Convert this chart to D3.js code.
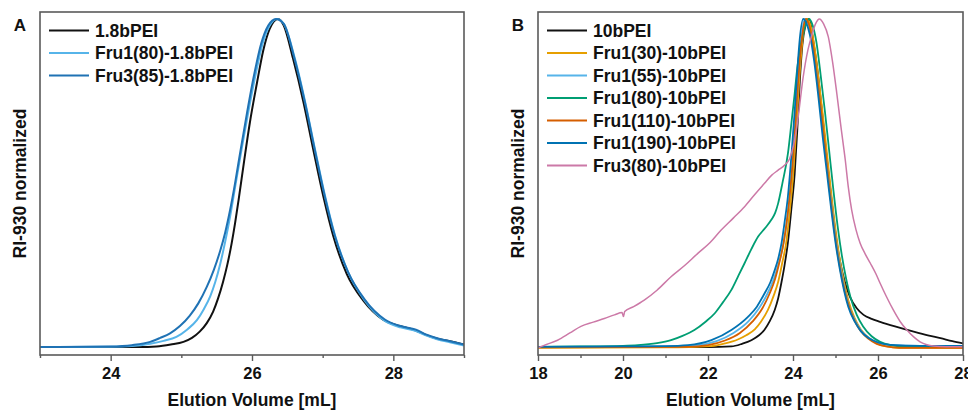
<!DOCTYPE html>
<html><head><meta charset="utf-8">
<script src="https://cdn.jsdelivr.net/npm/d3@7"></script>
<style>
body{margin:0;background:#fff;}
svg text{font-family:"Liberation Sans",Arial,sans-serif;font-weight:bold;fill:#111;}
</style></head>
<body><svg id="c" width="968" height="411"></svg>
<script>
// ---------- Panel A data ----------
const seriesNamesA = ["1.8bPEI","Fru1(80)-1.8bPEI","Fru3(85)-1.8bPEI"];
const colorsA = ["#111111","#56B4E9","#1f72b4"];
const pei18 = [[23,0.002],[24,0.002],[24.4,0.002],[24.65,0.004],[24.85,0.01],[25.03,0.018],[25.15,0.03],[25.26,0.049],[25.36,0.075],[25.45,0.11],[25.52,0.15],[25.59,0.2],[25.65,0.252],[25.71,0.315],[25.76,0.378],[25.81,0.449],[25.89,0.57],[25.97,0.685],[26.07,0.805],[26.16,0.905],[26.25,0.97],[26.37,1.0],[26.45,0.98],[26.58,0.88],[26.73,0.745],[26.87,0.60],[27.01,0.46],[27.15,0.34],[27.34,0.225],[27.57,0.145],[27.86,0.085],[28.09,0.066],[28.3,0.054],[28.45,0.04],[28.6,0.029],[28.8,0.02],[29,0.01]];
const fru1_80_18 = [[23,0.002],[24,0.003],[24.3,0.005],[24.56,0.012],[24.75,0.021],[24.93,0.033],[25.08,0.055],[25.22,0.084],[25.32,0.118],[25.41,0.157],[25.48,0.2],[25.55,0.255],[25.62,0.322],[25.69,0.399],[25.77,0.5],[25.85,0.6],[25.95,0.72],[26.05,0.83],[26.15,0.925],[26.25,0.98],[26.35,1.0],[26.45,0.985],[26.6,0.885],[26.75,0.75],[26.89,0.605],[27.03,0.465],[27.17,0.345],[27.36,0.23],[27.59,0.145],[27.88,0.082],[28.1,0.062],[28.32,0.051],[28.47,0.037],[28.62,0.026],[28.8,0.017],[29,0.007]];
const fru3_85_18 = [[23,0.002],[24,0.004],[24.3,0.008],[24.56,0.018],[24.7,0.03],[24.84,0.044],[24.98,0.066],[25.12,0.098],[25.24,0.135],[25.36,0.185],[25.46,0.237],[25.55,0.295],[25.62,0.35],[25.69,0.419],[25.76,0.5],[25.83,0.59],[25.93,0.715],[26.03,0.83],[26.13,0.925],[26.23,0.98],[26.34,1.0],[26.45,0.985],[26.6,0.88],[26.75,0.745],[26.89,0.6],[27.03,0.46],[27.17,0.342],[27.36,0.23],[27.59,0.148],[27.88,0.086],[28.1,0.066],[28.32,0.055],[28.47,0.04],[28.62,0.029],[28.8,0.02],[29,0.01]];

// ---------- Panel B data ----------
const seriesNamesB = ["10bPEI","Fru1(30)-10bPEI","Fru1(55)-10bPEI","Fru1(80)-10bPEI","Fru1(110)-10bPEI","Fru1(190)-10bPEI","Fru3(80)-10bPEI"];
const colorsB = ["#111111","#E69F00","#56B4E9","#009E73","#D55E00","#0072B2","#CC79A7"];
const pei10 = [[18,0.002],[20,0.002],[22,0.002],[22.55,0.004],[22.8,0.012],[23.02,0.023],[23.2,0.038],[23.33,0.055],[23.45,0.08],[23.57,0.115],[23.65,0.15],[23.73,0.2],[23.8,0.25],[23.88,0.32],[23.96,0.42],[24.04,0.53],[24.1,0.66],[24.16,0.81],[24.22,0.92],[24.29,0.98],[24.36,1.0],[24.42,0.98],[24.48,0.93],[24.56,0.86],[24.64,0.77],[24.72,0.67],[24.8,0.57],[24.88,0.48],[24.95,0.40],[25.03,0.32],[25.11,0.26],[25.22,0.2],[25.34,0.155],[25.5,0.12],[25.66,0.10],[25.85,0.088],[26.05,0.079],[26.4,0.065],[26.84,0.049],[27.2,0.037],[27.47,0.029],[27.75,0.02],[28,0.013]];
const fru1_30 = [[18,0.0],[21,0.001],[22.08,0.005],[22.4,0.013],[22.7,0.025],[22.9,0.038],[23.1,0.056],[23.25,0.08],[23.41,0.115],[23.55,0.16],[23.65,0.2],[23.75,0.26],[23.84,0.32],[23.92,0.41],[24.0,0.52],[24.08,0.67],[24.15,0.82],[24.22,0.93],[24.28,0.985],[24.33,1.0],[24.4,0.985],[24.5,0.92],[24.6,0.82],[24.7,0.71],[24.8,0.59],[24.9,0.47],[25.0,0.36],[25.1,0.27],[25.2,0.2],[25.3,0.145],[25.45,0.09],[25.6,0.055],[25.8,0.028],[26.0,0.012],[26.2,0.004],[26.5,0.0],[28,0.0]];
const fru1_55 = [[18,0.003],[21,0.004],[21.7,0.007],[22.2,0.02],[22.6,0.045],[22.95,0.08],[23.2,0.12],[23.4,0.165],[23.55,0.21],[23.65,0.25],[23.75,0.3],[23.84,0.37],[23.92,0.46],[24.0,0.58],[24.08,0.73],[24.15,0.86],[24.21,0.95],[24.27,1.0],[24.35,0.985],[24.43,0.94],[24.53,0.86],[24.63,0.75],[24.73,0.63],[24.83,0.52],[24.93,0.41],[25.03,0.31],[25.13,0.235],[25.23,0.17],[25.33,0.122],[25.48,0.078],[25.63,0.048],[25.83,0.026],[26.03,0.015],[26.3,0.008],[27,0.006],[28,0.006]];
const fru1_80 = [[18,0.003],[19,0.004],[20,0.006],[20.35,0.008],[20.8,0.014],[21.13,0.023],[21.4,0.036],[21.68,0.054],[21.95,0.08],[22.16,0.105],[22.35,0.138],[22.55,0.176],[22.7,0.215],[22.86,0.257],[23.02,0.3],[23.18,0.338],[23.35,0.365],[23.49,0.389],[23.58,0.41],[23.65,0.439],[23.75,0.5],[23.88,0.59],[23.96,0.68],[24.04,0.774],[24.1,0.85],[24.16,0.906],[24.25,0.96],[24.32,0.99],[24.38,1.0],[24.45,0.985],[24.55,0.93],[24.65,0.83],[24.75,0.72],[24.85,0.6],[24.95,0.48],[25.05,0.37],[25.15,0.28],[25.25,0.21],[25.35,0.155],[25.5,0.1],[25.65,0.065],[25.85,0.035],[26.05,0.018],[26.3,0.008],[26.6,0.004],[28,0.003]];
const fru1_110 = [[18,0.001],[21.5,0.003],[22.0,0.008],[22.4,0.022],[22.75,0.045],[23.05,0.08],[23.28,0.12],[23.45,0.165],[23.58,0.21],[23.68,0.26],[23.78,0.32],[23.87,0.4],[23.95,0.5],[24.03,0.63],[24.1,0.77],[24.17,0.89],[24.24,0.97],[24.3,1.0],[24.37,0.985],[24.47,0.92],[24.57,0.82],[24.67,0.71],[24.77,0.59],[24.87,0.47],[24.97,0.36],[25.07,0.27],[25.17,0.2],[25.27,0.145],[25.42,0.09],[25.57,0.055],[25.77,0.028],[25.97,0.012],[26.2,0.004],[26.5,0.0],[28,0.0]];
const fru1_190 = [[18,0.003],[20,0.004],[21,0.005],[21.53,0.008],[22.08,0.023],[22.55,0.054],[22.94,0.094],[23.15,0.125],[23.33,0.165],[23.47,0.2],[23.57,0.236],[23.65,0.27],[23.73,0.318],[23.8,0.38],[23.88,0.46],[23.96,0.58],[24.04,0.72],[24.1,0.84],[24.16,0.94],[24.24,1.0],[24.32,0.985],[24.4,0.95],[24.5,0.87],[24.6,0.76],[24.7,0.64],[24.8,0.53],[24.9,0.42],[25.0,0.32],[25.1,0.24],[25.2,0.175],[25.3,0.125],[25.45,0.08],[25.6,0.05],[25.8,0.028],[26.0,0.016],[26.3,0.009],[27,0.006],[28,0.006]];
const fru3_80 = [[18,0.0],[18.2,0.01],[18.46,0.023],[18.75,0.045],[19.01,0.065],[19.3,0.078],[19.56,0.089],[19.8,0.1],[19.98,0.107],[20.01,0.095],[20.04,0.11],[20.25,0.125],[20.5,0.145],[20.8,0.175],[21.13,0.216],[21.45,0.25],[21.76,0.287],[22.05,0.32],[22.31,0.358],[22.6,0.395],[22.86,0.429],[23.1,0.466],[23.33,0.5],[23.5,0.525],[23.65,0.54],[23.8,0.555],[23.92,0.575],[24.02,0.62],[24.12,0.7],[24.24,0.824],[24.35,0.905],[24.44,0.95],[24.53,0.985],[24.62,1.0],[24.72,0.985],[24.83,0.946],[24.93,0.87],[25.03,0.774],[25.13,0.67],[25.23,0.571],[25.3,0.49],[25.38,0.419],[25.48,0.36],[25.58,0.318],[25.7,0.285],[25.82,0.257],[25.95,0.225],[26.05,0.196],[26.2,0.155],[26.36,0.115],[26.52,0.08],[26.68,0.054],[26.84,0.033],[26.99,0.018],[27.15,0.009],[27.3,0.005],[27.6,0.003],[28,0.003]];

const ticksA = [24,26,28], minorA = [23,25,27,29];
const ticksB = [18,20,22,24,26,28], minorB = [19,21,23,25,27];
const xTitle = "Elution Volume [mL]", yTitle = "RI-930 normalized";

const svg = d3.select("#c");
const plotTop = 12, plotBottom = 355;
const y = d3.scaleLinear().domain([-0.022, 1.021]).range([plotBottom, plotTop]);

function panel(id, left, right, domain, data, names, colors, ticks, minor, letter, widths) {
  const x = d3.scaleLinear().domain(domain).range([left, right]);
  const g = svg.append("g");
  g.append("clipPath").attr("id", "clip" + id).append("rect")
    .attr("x", left).attr("y", plotTop).attr("width", right - left).attr("height", plotBottom - plotTop);
  const line = d3.line().x(d => x(d[0])).y(d => y(d[1])).curve(d3.curveMonotoneX);
  const lg = g.append("g").attr("clip-path", `url(#clip${id})`);
  data.forEach((s, i) => {
    lg.append("path").attr("d", line(s)).attr("fill", "none")
      .attr("stroke", colors[i]).attr("stroke-width", widths[i]).attr("stroke-linejoin", "round");
  });
  g.append("rect").attr("x", left).attr("y", plotTop).attr("width", right - left).attr("height", plotBottom - plotTop)
    .attr("fill", "none").attr("stroke", "#5a5a5a").attr("stroke-width", 1.6);
  const ax = g.append("g").attr("transform", `translate(0,${plotBottom})`)
    .call(d3.axisBottom(x).tickValues(ticks).tickSize(6).tickPadding(6).tickFormat(d3.format("d")));
  ax.select(".domain").remove();
  ax.selectAll("line").attr("stroke", "#5a5a5a").attr("stroke-width", 1.4);
  ax.selectAll("text").attr("font-size", 16.5).attr("font-family", "Liberation Sans, Arial, sans-serif").attr("font-weight", "bold").attr("fill", "#111");
  const mx = g.append("g").attr("transform", `translate(0,${plotBottom})`)
    .call(d3.axisBottom(x).tickValues(minor).tickSize(3).tickFormat(""));
  mx.select(".domain").remove();
  mx.selectAll("line").attr("stroke", "#5a5a5a").attr("stroke-width", 1.4);
  g.append("text").attr("x", (left + right) / 2).attr("y", 406).attr("text-anchor", "middle")
    .attr("font-size", 17.5).text(xTitle);
  g.append("text").attr("transform", `translate(${left - 14},${(plotTop + plotBottom) / 2}) rotate(-90)`)
    .attr("text-anchor", "middle").attr("font-size", 17.5).text(yTitle);
  g.append("text").attr("x", left - 20).attr("y", 31).attr("text-anchor", "middle")
    .attr("font-size", 17).text(letter);
  names.forEach((n, i) => {
    const yy = 30.5 + i * 22.5;
    g.append("line").attr("x1", left + 9).attr("x2", left + 49).attr("y1", yy).attr("y2", yy)
      .attr("stroke", colors[i]).attr("stroke-width", 2);
    g.append("text").attr("x", left + 55).attr("y", yy + 6.2).attr("font-size", 17.5).text(n);
  });
}

panel("A", 40, 464, [23, 29], [pei18, fru1_80_18, fru3_85_18], seriesNamesA, colorsA, ticksA, minorA, "A", [2, 2, 2]);
panel("B", 538, 963, [18, 28], [pei10, fru1_30, fru1_55, fru1_80, fru1_110, fru1_190, fru3_80], seriesNamesB, colorsB, ticksB, minorB, "B", [1.8, 1.8, 1.8, 1.8, 1.8, 1.8, 1.5]);
</script></body></html>
